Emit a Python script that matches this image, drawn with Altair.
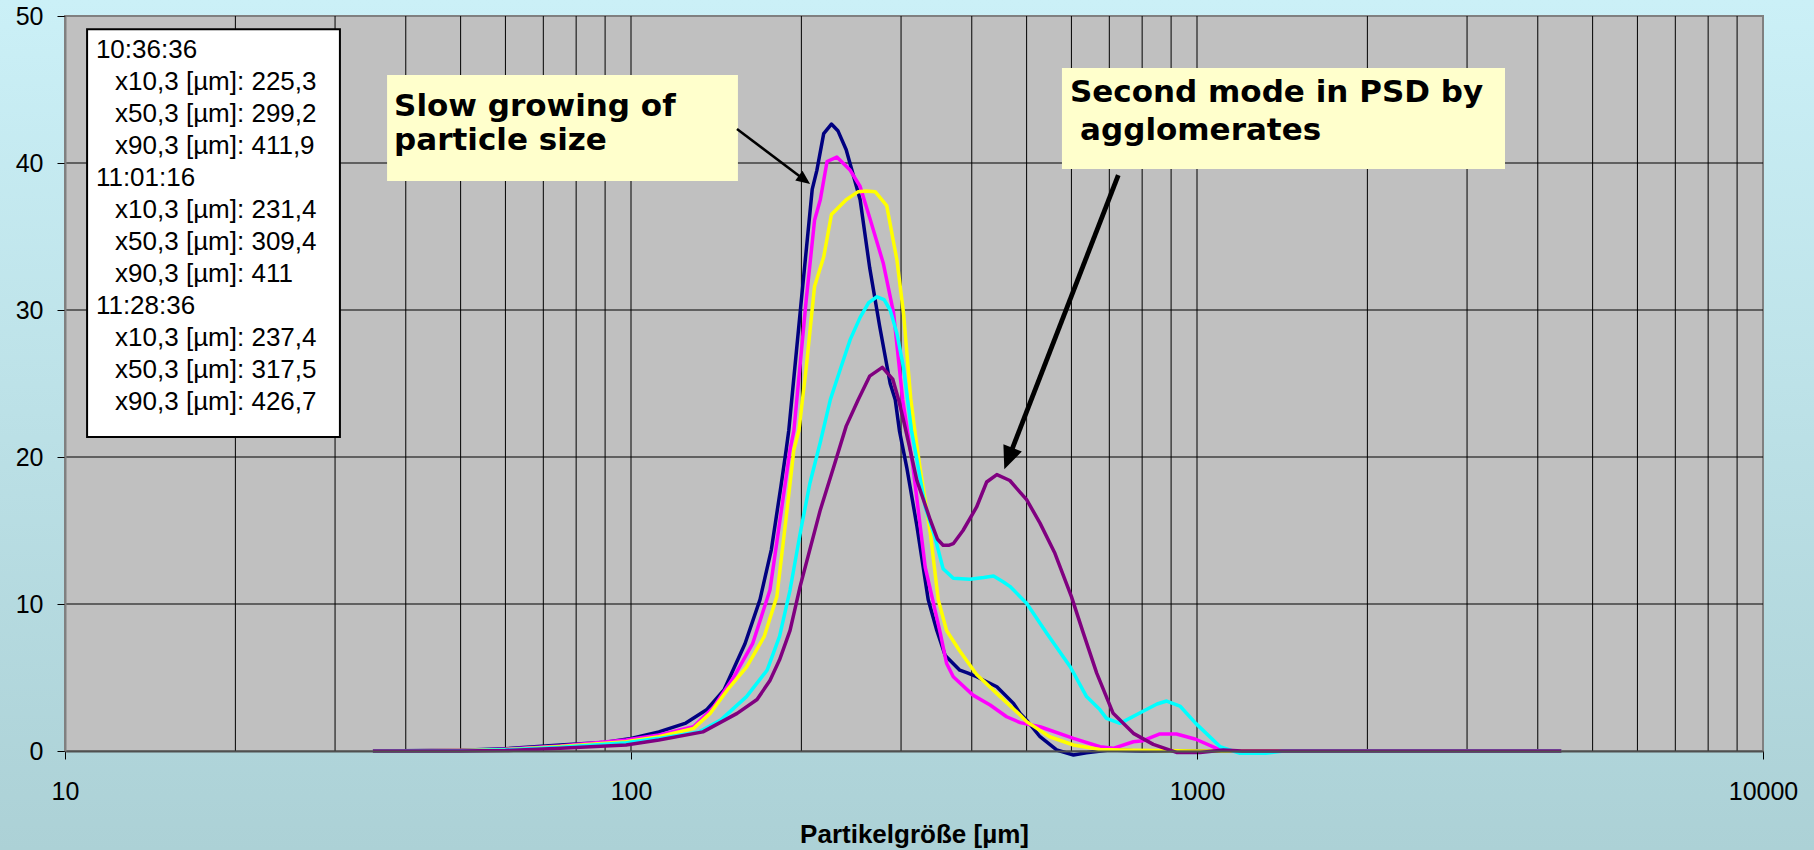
import math
import altair as alt
import pandas as pd

W, H = 1698, 735

# ---------------- data ----------------
navy_x = [35, 50, 60, 75, 89, 100, 112, 125, 136, 146, 159, 169, 177, 184, 188, 190, 200, 209, 213, 219, 226, 232, 240, 254, 264, 275, 287, 293, 298, 307, 320, 335, 347, 359, 381, 394, 408, 419, 443, 474, 487, 500, 528, 565, 605, 638, 700, 800, 1000, 1500, 2000, 3000, 4400]
navy_y = [0, 0.05, 0.15, 0.41, 0.57, 0.86, 1.3, 1.9, 2.8, 4.15, 7.3, 10.3, 13.7, 18.0, 20.5, 21.8, 30.7, 38.2, 39.5, 42.0, 42.65, 42.2, 40.9, 37.5, 32.9, 28.9, 25.0, 23.9, 21.8, 19.3, 15.3, 10.3, 8.2, 6.5, 5.5, 5.3, 5.05, 4.83, 4.37, 3.24, 2.56, 2.1, 0.97, 0.07, -0.27, -0.12, 0.07, 0, 0, 0, 0, 0, 0]

magenta_x = [35, 50, 60, 75, 98, 112, 129, 140, 152, 164, 176, 183, 191, 194, 204, 211, 216, 222, 231, 244, 254, 264, 279, 291, 302, 315, 331, 352, 361, 371, 402, 431, 461, 487, 528, 605, 674, 711, 772, 803, 860, 920, 995, 1083, 1150, 1500, 2000, 3000, 4400]
magenta_y = [0, 0.04, 0.12, 0.34, 0.75, 1.09, 1.65, 3.0, 5.05, 7.3, 10.95, 15.5, 20.5, 21.8, 30.7, 36.1, 37.5, 40.1, 40.4, 39.5, 38.4, 36.3, 33.2, 29.8, 23.9, 19.3, 12.5, 8.0, 5.97, 5.05, 3.8, 3.13, 2.33, 1.93, 1.65, 0.86, 0.29, 0.18, 0.63, 0.7, 1.16, 1.16, 0.8, 0.18, 0, 0, 0, 0, 0]

yellow_x = [35, 50, 60, 75, 98, 112, 129, 138, 148, 160, 172, 181, 188, 194, 198, 204, 211, 219, 226, 240, 252, 260, 270, 283, 295, 303, 312, 318, 324, 338, 349, 361, 381, 408, 449, 487, 500, 549, 605, 674, 772, 1000, 1500, 2000, 3000, 4400]
yellow_y = [0, 0.03, 0.1, 0.3, 0.63, 0.97, 1.54, 2.56, 4.15, 5.7, 7.8, 10.5, 15.9, 20.5, 21.8, 26.1, 31.6, 33.6, 36.5, 37.5, 38.05, 38.1, 38.05, 37.1, 33.4, 29.8, 24.0, 21.5, 19.3, 14.8, 10.3, 8.2, 6.8, 5.2, 3.7, 2.45, 2.0, 0.97, 0.41, 0.1, 0.05, 0, 0, 0, 0, 0]

cyan_x = [35, 50, 60, 75, 98, 112, 132, 144, 160, 174, 183, 191, 199, 207, 216, 225, 234, 244, 254, 263, 272, 280, 287, 295, 303, 313, 320, 331, 338, 344, 356, 371, 397, 420, 437, 455, 467, 487, 500, 543, 597, 638, 674, 692, 731, 803, 850, 884, 933, 995, 1098, 1191, 1323, 1420, 2000, 3000, 4400]
cyan_y = [0, 0.02, 0.08, 0.25, 0.57, 0.86, 1.3, 2.1, 3.7, 5.5, 7.8, 10.95, 14.8, 18.2, 21.0, 23.9, 25.9, 28.0, 29.5, 30.5, 30.9, 30.7, 30.0, 28.4, 26.1, 21.8, 19.8, 16.6, 15.5, 14.6, 12.4, 11.75, 11.68, 11.8, 11.9, 11.5, 11.2, 10.5, 10.05, 8.0, 5.73, 3.7, 2.8, 2.22, 1.88, 2.7, 3.2, 3.4, 3.06, 1.88, 0.3, -0.16, -0.16, 0, 0, 0, 0]

purple_x = [35, 50, 60, 75, 98, 112, 134, 154, 167, 176, 183, 191, 199, 207, 216, 228, 240, 252, 264, 278, 290, 297, 303, 310, 320, 338, 348, 356, 365, 371, 386, 408, 425, 443, 467, 487, 500, 528, 561, 600, 630, 665, 711, 772, 837, 920, 1013, 1113, 1200, 1500, 2000, 3000, 4400]
purple_y = [0, 0.0, 0.03, 0.18, 0.41, 0.75, 1.3, 2.56, 3.5, 4.8, 6.2, 8.2, 11.2, 13.7, 16.4, 19.3, 22.1, 23.9, 25.5, 26.1, 25.3, 23.9, 22.5, 20.8, 18.4, 15.7, 14.4, 14.0, 14.0, 14.1, 15.0, 16.6, 18.3, 18.8, 18.4, 17.6, 17.1, 15.5, 13.45, 10.5, 8.0, 5.3, 2.56, 1.2, 0.45, -0.1, -0.1, 0.07, 0, 0, 0, 0, 0]

series_names = ["S1", "S2", "S3", "S4", "S5"]
series_colors = ["#000080", "#ff00ff", "#ffff00", "#00ffff", "#800080"]
series_x = [navy_x, magenta_x, yellow_x, cyan_x, purple_x]
series_y = [navy_y, magenta_y, yellow_y, cyan_y, purple_y]

x_ticks = [10, 100, 1000, 10000]
y_ticks = [0, 10, 20, 30, 40, 50]
x_grid = [m * 10 ** k for k in (1, 2, 3) for m in range(2, 10)] + [100, 1000]
y_grid = [10, 20, 30, 40]

legend_lines = ["10:36:36", "x10,3 [µm]: 225,3", "x50,3 [µm]: 299,2", "x90,3 [µm]: 411,9",
                "11:01:16", "x10,3 [µm]: 231,4", "x50,3 [µm]: 309,4", "x90,3 [µm]: 411",
                "11:28:36", "x10,3 [µm]: 237,4", "x50,3 [µm]: 317,5", "x90,3 [µm]: 426,7"]

ann_lines = ["Slow growing of", "particle size", "Second mode in PSD by", "agglomerates"]
ann_x = [38.14, 38.14, 596.5, 621.5]
ann_y = [43.2, 40.88, 44.15, 41.56]

# annotation boxes (data coords)
box_x0 = [10.94, 37.07, 577.3]
box_x1 = [30.6, 154.5, 3501]
box_y0 = [21.36, 38.78, 39.59]
box_y1 = [49.1, 45.99, 46.46]
box_fill = ["#ffffff", "#ffffcc", "#ffffcc"]
box_stroke = ["#000000", "#ffffcc", "#ffffcc"]
box_sw = [2, 0, 0]

# arrows (data coords)
arr_sx = [153.9, 726.0]
arr_sy = [42.31, 39.18]
arr_tx = [207.2, 456.6]
arr_ty = [38.57, 19.16]
arr_t = [0.88, 0.943]
arr_head = [784, 2116]
arr_angle = [126.9, 201.2]
arr_w = [2.5, 4.8]

# ---------------- chart ----------------
FONT = "Liberation Sans"
xs = alt.Scale(type="log", domain=[10, 10000], nice=False)
ys = alt.Scale(domain=[0, 50], nice=False, zero=False)

ax_x = alt.Axis(
    values=x_ticks, format="d", title="Partikelgröße [µm]", grid=False,
    labelFont=FONT, labelFontSize=25, labelColor="#000000", labelPadding=20,
    tickColor="#000000", tickSize=8, tickWidth=1,
    domainColor="#505050", domainWidth=2,
    titleFont=FONT, titleFontSize=26, titleFontWeight="bold", titleColor="#000000",
    titlePadding=17, zindex=1, labelFlush=False)
ax_y = alt.Axis(
    values=y_ticks, title=None, grid=False,
    labelFont=FONT, labelFontSize=25, labelColor="#000000", labelPadding=14,
    tickColor="#000000", tickSize=8, tickWidth=1,
    domainColor="#808080", domainWidth=2, zindex=1)


def X(f):
    return alt.X(f, scale=xs, axis=ax_x, title="Partikelgröße [µm]")


def Y(f):
    return alt.Y(f, scale=ys, axis=ax_y, title=None)


one = pd.DataFrame({"k": [0]})

bg = alt.Chart(one).mark_rect(
    color=alt.Gradient(gradient="linear",
                       stops=[alt.GradientStop(color="#cbf0f7", offset=0),
                              alt.GradientStop(color="#acd1d6", offset=1)],
                       x1=0, x2=0, y1=0, y2=1)
).encode(x=alt.value(-65), x2=alt.value(W + 51), y=alt.value(-16), y2=alt.value(H + 99))

plot_df = pd.DataFrame({"x0": [10], "x1": [10000], "y0": [0], "y1": [50]})
plot_rect = alt.Chart(plot_df).mark_rect(fill="#c0c0c0", stroke="#808080", strokeWidth=2).encode(
    x=X("x0:Q"), x2="x1:Q", y=Y("y0:Q"), y2="y1:Q")

vgrid = alt.Chart(pd.DataFrame({"g": x_grid})).mark_rule(color="#000000", strokeWidth=1).encode(x=X("g:Q"))
hgrid = alt.Chart(pd.DataFrame({"g": y_grid})).mark_rule(color="#000000", strokeWidth=1).encode(y=Y("g:Q"))

layers = [bg, plot_rect, vgrid, hgrid]

for name, col, sx, sy in zip(series_names, series_colors, series_x, series_y):
    df = pd.DataFrame({"x": sx, "y": sy, "s": name})
    layers.append(
        alt.Chart(df).mark_line(color=col, strokeWidth=3.5, strokeJoin="round", clip=False).encode(
            x=X("x:Q"), y=Y("y:Q"), order="x:Q")
    )

boxes = pd.DataFrame({"x0": box_x0, "x1": box_x1, "y0": box_y0, "y1": box_y1,
                      "f": box_fill, "st": box_stroke, "sw": box_sw})
layers.append(
    alt.Chart(boxes).mark_rect().encode(
        x=X("x0:Q"), x2="x1:Q", y=Y("y0:Q"), y2="y1:Q",
        fill=alt.Fill("f:N", scale=None),
        stroke=alt.Stroke("st:N", scale=None),
        strokeWidth=alt.StrokeWidth("sw:Q", scale=None),
    )
)

# legend text inside white box
leg_x = [11.34 if i % 4 == 0 else 12.26 for i in range(len(legend_lines))]
leg_y = [47.69 - i * 2.177 for i in range(len(legend_lines))]
leg_df = pd.DataFrame({"x": leg_x, "y": leg_y, "t": legend_lines})
layers.append(
    alt.Chart(leg_df).mark_text(align="left", baseline="middle", font=FONT, fontSize=26, color="#000000").encode(
        x=X("x:Q"), y=Y("y:Q"), text="t:N")
)

ann_df = pd.DataFrame({"x": ann_x, "y": ann_y, "t": ann_lines})
layers.append(
    alt.Chart(ann_df).mark_text(align="left", baseline="alphabetic", font="DejaVu Sans", fontWeight="bold",
                                fontSize=31, color="#000000").encode(
        x=X("x:Q"), y=Y("y:Q"), text="t:N")
)

# arrows
bx = [10 ** (math.log10(a) + t * (math.log10(b) - math.log10(a))) for a, b, t in zip(arr_sx, arr_tx, arr_t)]
by = [a + t * (b - a) for a, b, t in zip(arr_sy, arr_ty, arr_t)]
arr_df = pd.DataFrame({"sx": arr_sx, "sy": arr_sy, "bx": bx, "by": by, "tx": arr_tx, "ty": arr_ty,
                       "h": arr_head, "a": arr_angle, "w": arr_w})
layers.append(
    alt.Chart(arr_df).mark_rule(color="#000000").encode(
        x=X("sx:Q"), y=Y("sy:Q"), x2="bx:Q", y2="by:Q",
        strokeWidth=alt.StrokeWidth("w:Q", scale=None))
)
layers.append(
    alt.Chart(arr_df).mark_point(shape="M0,0 L0.43,1 L-0.43,1 Z", filled=True, color="#000000", opacity=1).encode(
        x=X("tx:Q"), y=Y("ty:Q"),
        size=alt.Size("h:Q", scale=None), angle=alt.Angle("a:Q", scale=None))
)

chart = alt.layer(*layers).properties(
    width=W, height=H,
    padding={"left": 65, "top": 16, "right": 51, "bottom": 99},
    autosize=alt.AutoSizeParams(type="none"),
    background="#bde0e6",
).configure_view(stroke=None)

chart.save("out.html", embed_options={"renderer": "svg", "actions": False})
